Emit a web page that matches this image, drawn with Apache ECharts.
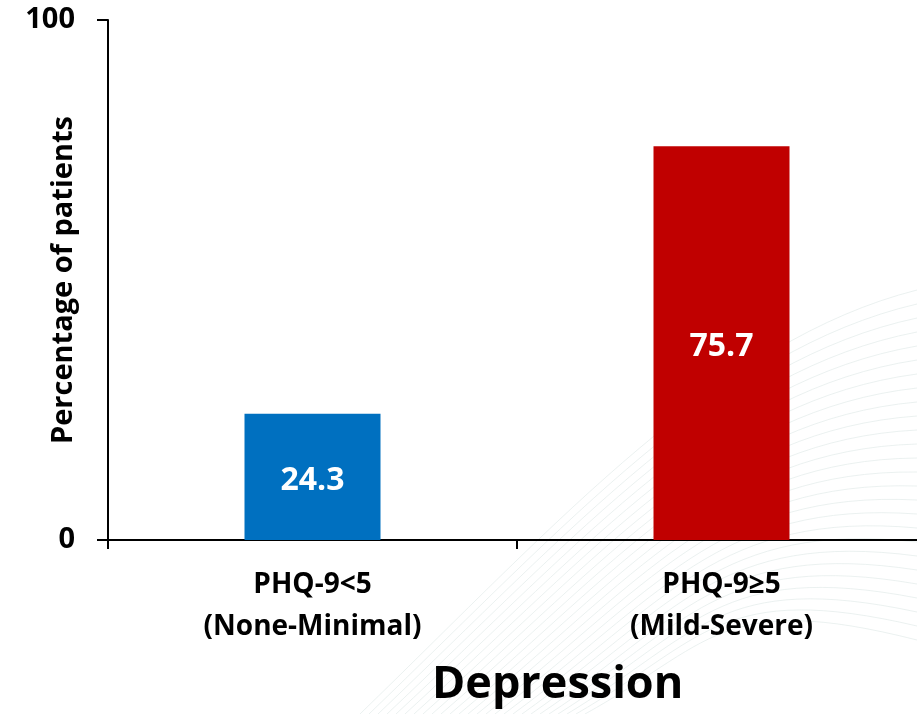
<!DOCTYPE html>
<html>
<head>
<meta charset="utf-8">
<script src="https://cdn.jsdelivr.net/npm/echarts@6/dist/echarts.min.js"></script>
<style>
  html, body { margin: 0; padding: 0; background: #fff; }
  #chart { width: 917px; height: 714px; }
</style>
</head>
<body>
<div id="chart"></div>
<script>
const categories = ['PHQ-9<5\n(None-Minimal)', 'PHQ-9≥5\n(Mild-Severe)']
const values = [24.3, 75.7]
const barColors = ['#0070C0', '#C00000']
const yTicks = [0, 100]

const font = '"Open Sans", "Noto Sans", sans-serif'
const chart = echarts.init(document.getElementById('chart'))

// faint decorative swoosh lines in the lower right background
const waves = []
for (let i = 0; i < 26; i++) {
  waves.push({
    type: 'bezierCurve',
    silent: true,
    z: -10,
    shape: {
      x1: 360 + i * 9, y1: 714,
      cpx1: 560 + i * 6, cpy1: 520 + i * 5,
      cpx2: 720, cpy2: 340 + i * 10,
      x2: 917, y2: 290 + i * 14
    },
    style: { stroke: '#dde7e6', lineWidth: 1, fill: null, opacity: 0.6 }
  })
}

chart.setOption({
  animation: false,
  graphic: waves,
  title: {
    text: 'Depression',
    left: 427,
    top: 658,
    textStyle: { fontFamily: font, fontSize: 45, fontWeight: 'bold', color: '#000' }
  },
  grid: { left: 108, top: 20, bottom: 174, width: 818, containLabel: false, outerBoundsMode: 'none' },
  xAxis: {
    type: 'category',
    data: categories,
    axisLine: { lineStyle: { color: '#000', width: 2 } },
    axisTick: { show: true, length: 9, lineStyle: { color: '#000', width: 2 } },
    axisLabel: {
      margin: 24,
      fontFamily: font,
      fontSize: 28,
      fontWeight: 'bold',
      color: '#000',
      lineHeight: 42
    }
  },
  yAxis: {
    type: 'value',
    min: yTicks[0],
    max: yTicks[yTicks.length - 1],
    interval: 100,
    name: 'Percentage of patients',
    nameLocation: 'middle',
    nameRotate: 90,
    nameGap: 30,
    nameMoveOverlap: false,
    nameTextStyle: { fontFamily: font, fontSize: 29, fontWeight: 'bold', color: '#000' },
    axisLine: { show: true, lineStyle: { color: '#000', width: 2 } },
    axisTick: { show: true, length: 11, lineStyle: { color: '#000', width: 2 } },
    splitLine: { show: false },
    axisLabel: {
      margin: 33,
      fontFamily: font,
      fontSize: 29,
      fontWeight: 'bold',
      color: '#000'
    }
  },
  series: [{
    type: 'bar',
    barWidth: 136,
    data: values.map((v, i) => ({ value: v, itemStyle: { color: barColors[i] } })),
    label: {
      show: true,
      position: 'inside',
      offset: [0, 4],
      fontFamily: font,
      fontSize: 32,
      fontWeight: 'bold',
      color: '#fff'
    }
  }]
})
</script>
</body>
</html>
